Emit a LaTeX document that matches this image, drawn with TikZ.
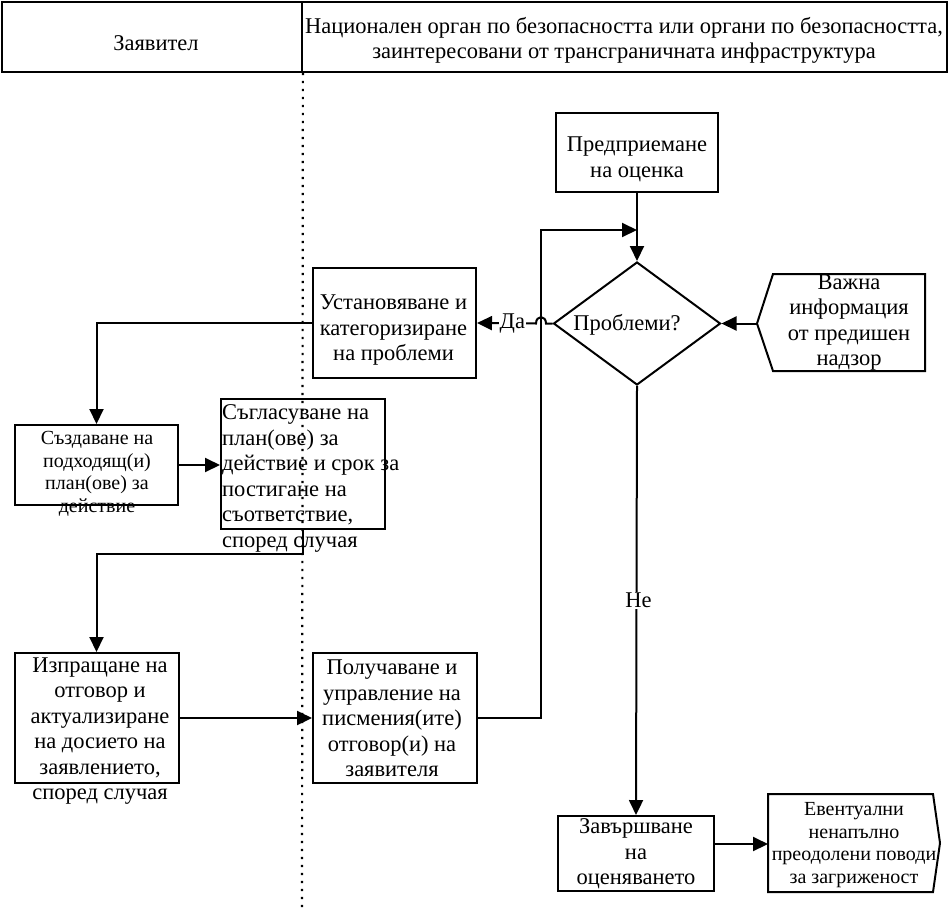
\documentclass[tikz,border=0pt]{standalone}
\usepackage{fontspec}
\setmainfont{Liberation Serif}
\usetikzlibrary{arrows.meta,shapes.geometric,calc}
\tikzset{
  box/.style={draw, line width=2pt, rectangle, inner sep=0pt, align=center},
  arr/.style={line width=2pt, -{Triangle[length=15pt,width=14pt]}},
  txt/.style={inner sep=0pt, align=center},
  big/.style={font=\fontsize{22.5}{25.5}\selectfont},
  small/.style={font=\fontsize{20}{22.5}\selectfont},
  hdr/.style={draw, line width=1.8pt, rectangle, inner sep=0pt, minimum height=70pt},
  dots/.style={line width=2.2pt, dash pattern=on 2.2pt off 5.8pt},
  lbl/.style={fill=white, inner sep=1pt, font=\fontsize{22.5}{24}\selectfont},
}
\begin{document}
\begin{tikzpicture}[x=1pt,y=-1pt]
\useasboundingbox (0,0) rectangle (949,910);
% header
\node[hdr, minimum width=300pt] (h1) at (152,37) {};
\node[hdr, minimum width=645pt] (h2) at (624.5,37) {};
\node[txt, big] (h1t) at (156,43) {Заявител};
\node[txt, big] (h2t) at (624,40.5) {Национален орган по безопасността или органи по безопасността,\\заинтересовани от трансграничната инфраструктура};
\coordinate (dotend) at (302,910);
\draw[dots] (h1.south east) -- (dotend);

% right column
\node[box, minimum width=162pt, minimum height=79pt] (pa) at (637,152.5) {};
\node[txt, big] (pat) at (637,159.5) {Предприемане\\на оценка};
\node[diamond, draw, line width=2pt, inner sep=0pt, aspect=1.36, minimum width=167pt, minimum height=123pt] (dm) at (637,323.5) {};
\node[txt, big] (dmt) at (627,325) {Проблеми?};
\draw[line width=2pt] (757,323.5) -- (773,274) -- (925,274) -- (925,371) -- (773,371) -- cycle;
\coordinate (vip) at (757,323.5);
\node[txt, big] (vi) at (849,322.5) {Важна\\информация\\от предишен\\надзор};
\node[box, minimum width=156pt, minimum height=75pt] (zav) at (636,853.5) {};
\node[txt, big] (zavt) at (636,854) {Завършване\\на\\оценяването};
\draw[line width=2pt] (768,794) -- (933,794) -- (940,843) -- (933,892) -- (768,892) -- cycle;
\coordinate (evw) at (768,844);
\node[txt, small] (ev) at (854,845) {Евентуални\\ненапълно\\преодолени поводи\\за загриженост};

% middle / left
\node[box, minimum width=163pt, minimum height=110pt] (ust) at (394.5,323) {};
\node[txt, big] (ustt) at (393.5,330.5) {Установяване и\\категоризиране\\на проблеми};
\node[box, minimum width=163pt, minimum height=80pt] (sz) at (96.5,465) {};
\node[txt, small] (szt) at (97,474) {Създаване на\\подходящ(и)\\план(ове) за\\действие};
\node[box, minimum width=164pt, minimum height=130pt] (sg) at (303,464) {};
\node[txt, big, align=left, anchor=west] (sgt) at (222,478.5) {Съгласуване на\\план(ове) за\\действие и срок за\\постигане на\\съответствие,\\според случая};
\node[box, minimum width=164pt, minimum height=130pt] (iz) at (96.5,718) {};
\node[txt, big] (izt) at (100,731) {Изпращане на\\отговор и\\актуализиране\\на досието на\\заявлението,\\според случая};
\node[box, minimum width=164pt, minimum height=130pt] (pol) at (395,718) {};
\node[txt, big] (polt) at (392,718.5) {Получаване и\\управление на\\писмения(ите)\\отговор(и) на\\заявителя};

% connectors
\draw[arr] (pa.south) -- (dm.north);
\draw[arr] (vip) -- (dm.east);
\draw[arr] (dm.west) -- (546,323.5) .. controls (546,315) and (536,315) .. (536,323.5) -- node[lbl, pos=0.4] {Да} (ust.east);
\draw[arr] (dm.south) -- node[lbl, pos=0.5, xshift=2pt] {Не} (zav.north);
\draw[arr] (pol.east) -| (541,230) -- (637,230);
\draw[arr] (evw -| zav.east) -- (evw);
\draw[arr] (ust.west) -| (sz.north);
\draw[arr] (sz.east) -- (sz.east -| sg.west);
\draw[arr] (sg.south) -- ++(0,24) -| (iz.north);
\draw[arr] (iz.east) -- (pol.west);
\end{tikzpicture}
\end{document}
